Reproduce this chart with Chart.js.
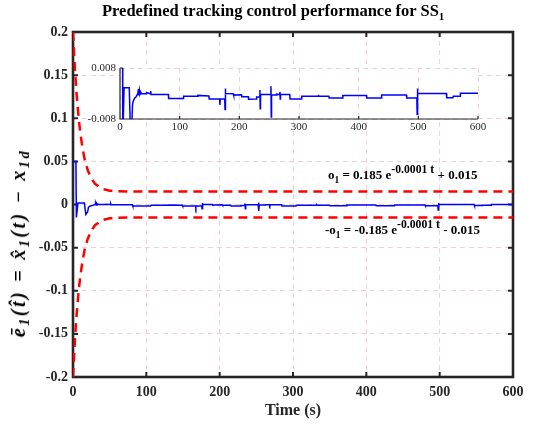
<!DOCTYPE html>
<html>
<head>
<meta charset="utf-8">
<script src="https://cdn.jsdelivr.net/npm/chart.js@4.4.1/dist/chart.umd.min.js"></script>
<style>
  html, body { margin:0; padding:0; background:#fff; }
  #wrap { position:relative; width:533px; height:425px; overflow:hidden; background:#fff; }
  canvas { position:absolute; }
  .txt { position:absolute; white-space:nowrap; font-family:'Liberation Serif','Times New Roman',serif; font-weight:bold; color:#000; }
  .sub { position:relative; top:4px; font-size:0.72em; }
  .sup { position:relative; top:-6px; font-size:0.9em; }
  .sp { display:inline-block; width:8px; }
</style>
</head>
<body>
<div id="wrap">
  <canvas id="main" width="533" height="425" style="left:0;top:0"></canvas>
  <canvas id="inset" width="420" height="82" style="left:80px;top:56px"></canvas>
  <div class="txt" id="title" style="left:102px;top:1px;font-size:16.5px;line-height:20px">Predefined tracking control performance for SS<span class="sub" style="font-size:11px">1</span></div>
  <div class="txt" id="ann1" style="left:328px;top:167px;font-size:13px;line-height:16px">o<span class="sub">1</span> = 0.185 e<span class="sup">-0.0001 t</span> + 0.015</div>
  <div class="txt" id="ann2" style="left:325px;top:222px;font-size:13px;line-height:16px">-o<span class="sub">1</span> = -0.185 e<span class="sup">-0.0001 t</span> - 0.015</div>
  <div class="txt" id="ylab" style="left:19px;top:243px;font-size:20px;line-height:22px;font-style:italic;letter-spacing:2.5px;transform:translate(-50%,-50%) rotate(-90deg)">e&#772;<span class="sub">1</span>(t&#770;)<span class="sp"></span>=<span class="sp"></span>x&#770;<span class="sub">1</span>(t)<span class="sp"></span>&#8722;<span class="sp"></span>x<span class="sub">1d</span></div>
</div>
<script>
// ---------- data ----------
const xTicks = [0, 100, 200, 300, 400, 500, 600];
const yTicks = [-0.2, -0.15, -0.1, -0.05, 0, 0.05, 0.1, 0.15, 0.2];
const insetXTicks = [0, 100, 200, 300, 400, 500, 600];
const insetYTicks = [-0.008, 0.008];

const boundTime  = [0, 1, 2, 3, 4, 5, 6, 8, 10, 12, 14, 16, 18, 20, 23, 26, 30, 35, 40, 45, 50, 60, 80, 600];
const upperBound = [0.2, 0.183, 0.167, 0.152, 0.139, 0.127, 0.117, 0.098, 0.083, 0.071, 0.061, 0.052, 0.046, 0.040, 0.034, 0.029, 0.024, 0.021, 0.018, 0.017, 0.016, 0.0155, 0.0151, 0.015];
const lowerBound = [-0.2, -0.183, -0.167, -0.152, -0.139, -0.127, -0.117, -0.098, -0.083, -0.071, -0.061, -0.052, -0.046, -0.040, -0.034, -0.029, -0.024, -0.021, -0.018, -0.017, -0.016, -0.0155, -0.0151, -0.015];

const errTime = [0, 4, 4.6, 6.8, 15.5, 17.5, 20, 21, 22, 24.5, 27, 29, 30, 30.8, 31.5, 32.5, 33.5, 35, 36, 44, 44.5, 51, 51.5, 52, 81, 81.5,
  106, 106.5, 130, 130.5, 149, 149.5, 167, 167.5, 168, 175.5, 176, 176.5, 177, 190, 190.5, 203.5, 204, 215, 215.5, 228.5, 229, 234, 234.5, 235, 235.5,
  237, 252.5, 253, 253.5, 254, 262, 262.5, 267.5, 268, 268.5, 269, 284.5, 285, 304, 304.5, 332, 332.5, 333, 350, 350.5, 373, 373.5, 413, 413.5,
  438, 438.5, 480, 480.5, 497.5, 498, 498.5, 499, 547, 547.5, 558, 558.5, 570, 570.5, 600];
const errValue = [0.05, 0.05, -0.015, 0.0018, 0.0018, -0.0116, -0.0085, -0.0036, -0.0025, -0.0015, -0.001, -0.0003, 0.0001, 0.0014, -0.0006, 0.0010, -0.0003, 0.0003, -0.0001, -0.0001, 0.0003, -0.0001, 0.0008, -0.0003, -0.0003, -0.0016,
  -0.0016, -0.0009, -0.0009, -0.0006, -0.0008, -0.0017, -0.0017, -0.0036, -0.0017, -0.0017, -0.0050, 0.0016, 0.0000, -0.0001, -0.0005, -0.0004, -0.0010, -0.0010, -0.0018, -0.0017, -0.0011, -0.0011, 0.0011, -0.0048, -0.0006,
  -0.0003, -0.0003, 0.0023, -0.0074, -0.0005, -0.0005, -0.0002, -0.0003, 0.0005, -0.0017, -0.0003, -0.0003, -0.0017, -0.0017, -0.0009, -0.0009, -0.0004, -0.0009, -0.0009, -0.0014, -0.0014, -0.0006, -0.0006, -0.0014,
  -0.0014, -0.0005, -0.0005, -0.0014, -0.0014, -0.0065, 0.0016, 0.0000, 0.0000, -0.0013, -0.0013, -0.0009, -0.0009, 0.0001, 0.0001];

// ---------- helpers ----------
const FONT = "'Liberation Serif','Times New Roman',serif";
const gridColor = '#f1d0d7';
const axisColor = '#262626';
const fmt = v => { const r = Math.round(v * 10000) / 10000; return r === 0 ? '0' : String(r); };
const pts = (xs, ys) => xs.map((t, i) => ({ x: t, y: ys[i] }));

const mainFrame = {
  id: 'mainFrame',
  beforeDatasetsDraw(chart) {
    const { ctx, chartArea: { left, right, top, bottom }, scales: { x, y } } = chart;
    ctx.save();
    ctx.strokeStyle = axisColor;
    ctx.lineWidth = 2;
    ctx.beginPath();
    x.ticks.forEach(t => { const p = x.getPixelForValue(t.value); ctx.moveTo(p, bottom); ctx.lineTo(p, bottom - 5); ctx.moveTo(p, top); ctx.lineTo(p, top + 5); });
    y.ticks.forEach(t => { const p = y.getPixelForValue(t.value); ctx.moveTo(left, p); ctx.lineTo(left + 5, p); ctx.moveTo(right, p); ctx.lineTo(right - 5, p); });
    ctx.stroke();
    ctx.lineWidth = 2.6;
    ctx.strokeRect(left, top, right - left, bottom - top);
    ctx.restore();
  }
};

const insetBg = {
  id: 'insetBg',
  beforeDraw(chart) {
    const { ctx, chartArea: { left, right, top, bottom } } = chart;
    ctx.save();
    ctx.fillStyle = '#fff';
    ctx.fillRect(left, top, right - left, bottom - top);
    ctx.restore();
  },
  beforeDatasetsDraw(chart) {
    const { ctx, chartArea: { left, right, top, bottom }, scales: { x, y } } = chart;
    ctx.save();
    ctx.strokeStyle = axisColor;
    ctx.lineWidth = 1.2;
    ctx.beginPath();
    x.ticks.forEach(t => { const p = x.getPixelForValue(t.value); ctx.moveTo(p, bottom); ctx.lineTo(p, bottom - 3); });
    y.ticks.forEach(t => { const p = y.getPixelForValue(t.value); ctx.moveTo(left, p); ctx.lineTo(left + 3, p); });
    ctx.moveTo(left, top); ctx.lineTo(left, bottom); ctx.lineTo(right, bottom);
    ctx.stroke();
    ctx.restore();
  }
};

// ---------- main chart ----------
new Chart(document.getElementById('main'), {
  type: 'line',
  data: {
    datasets: [
      { label: 'o1', data: pts(boundTime, upperBound), borderColor: '#ff0000', borderWidth: 2.5, borderDash: [9, 6], pointRadius: 0, tension: 0 },
      { label: '-o1', data: pts(boundTime, lowerBound), borderColor: '#ff0000', borderWidth: 2.5, borderDash: [9, 6], pointRadius: 0, tension: 0 },
      { label: 'e1', data: pts(errTime, errValue), borderColor: '#0000ff', borderWidth: 1.5, pointRadius: 0, tension: 0 }
    ]
  },
  options: {
    responsive: false, animation: false, devicePixelRatio: 1,
    layout: { padding: { top: 32, right: 20, left: 0, bottom: 0 } },
    plugins: { legend: { display: false }, tooltip: { enabled: false }, title: { display: false } },
    scales: {
      x: {
        type: 'linear', min: 0, max: 600,
        afterBuildTicks: s => { s.ticks = xTicks.map(v => ({ value: v })); },
        afterFit: s => { s.height = 48; },
        grid: { color: gridColor, lineWidth: 1, drawTicks: false },
        border: { display: false, dash: [5, 4] },
        ticks: { padding: 7, color: axisColor, maxRotation: 0, autoSkip: false, font: { family: FONT, size: 14, weight: 'bold' }, callback: v => fmt(v) },
        title: { display: true, text: 'Time (s)', color: axisColor, font: { family: FONT, size: 16, weight: 'bold' }, padding: { top: 0, bottom: 5 } }
      },
      y: {
        type: 'linear', min: -0.2, max: 0.2,
        afterBuildTicks: s => { s.ticks = yTicks.map(v => ({ value: v })); },
        afterFit: s => { s.width = 73; },
        grid: { color: gridColor, lineWidth: 1, drawTicks: false },
        border: { display: false, dash: [5, 4] },
        ticks: { padding: 5, color: axisColor, autoSkip: false, font: { family: FONT, size: 14, weight: 'bold' }, callback: v => fmt(v) }
      }
    }
  },
  plugins: [mainFrame]
});

// ---------- inset chart ----------
new Chart(document.getElementById('inset'), {
  type: 'line',
  data: {
    datasets: [
      { label: 'e1 zoom', data: pts(errTime, errValue), borderColor: '#0000ff', borderWidth: 1.5, pointRadius: 0, tension: 0 }
    ]
  },
  options: {
    responsive: false, animation: false, devicePixelRatio: 1,
    layout: { padding: { top: 12, right: 22, left: 0, bottom: 0 } },
    plugins: { legend: { display: false }, tooltip: { enabled: false } },
    scales: {
      x: {
        type: 'linear', min: 0, max: 600,
        afterBuildTicks: s => { s.ticks = insetXTicks.map(v => ({ value: v })); },
        afterFit: s => { s.height = 19; },
        grid: { color: gridColor, lineWidth: 1, drawTicks: false },
        border: { display: false, dash: [5, 4] },
        ticks: { padding: 2, color: axisColor, maxRotation: 0, autoSkip: false, font: { family: FONT, size: 11 }, callback: v => fmt(v) }
      },
      y: {
        type: 'linear', min: -0.008, max: 0.008,
        afterBuildTicks: s => { s.ticks = insetYTicks.map(v => ({ value: v })); },
        afterFit: s => { s.width = 40; },
        grid: { color: gridColor, lineWidth: 1, drawTicks: false },
        border: { display: false, dash: [5, 4] },
        ticks: { padding: 4, color: axisColor, autoSkip: false, font: { family: FONT, size: 11 }, callback: v => fmt(v) }
      }
    }
  },
  plugins: [insetBg]
});
</script>
</body>
</html>
